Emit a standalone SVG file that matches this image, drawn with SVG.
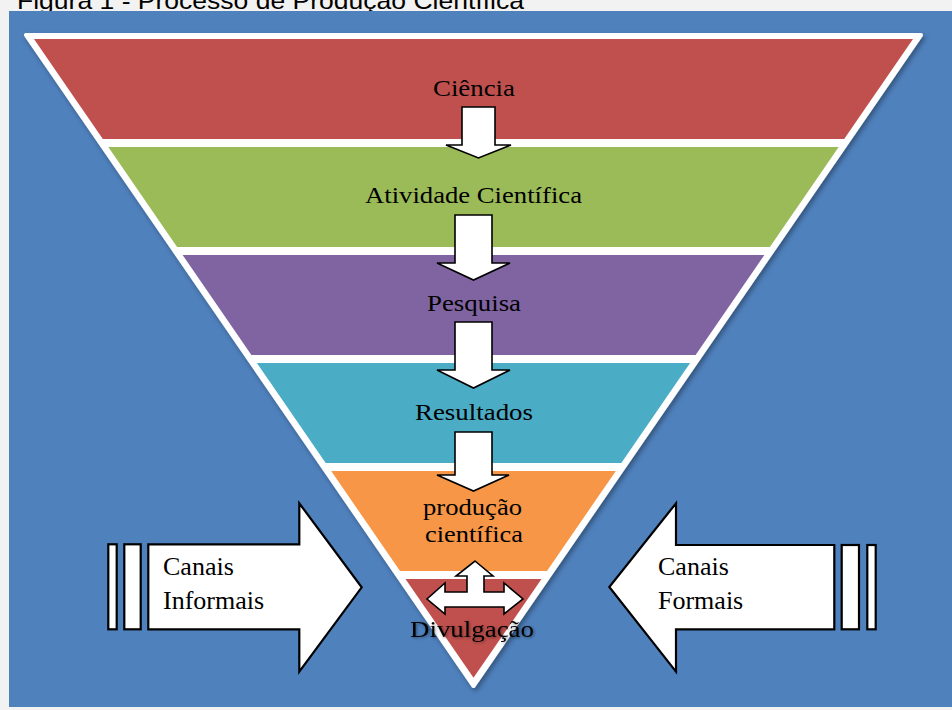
<svg xmlns="http://www.w3.org/2000/svg" width="952" height="710" viewBox="0 0 952 710">
<style>
.lbl{font-family:"Liberation Serif","Times New Roman",serif;font-size:23px;fill:#000;text-anchor:middle}
.side{font-family:"Liberation Serif","Times New Roman",serif;font-size:26px;fill:#000}
.arr{fill:#fff;stroke:#000;stroke-width:1.6;stroke-linejoin:miter}
.big{fill:#fff;stroke:#000;stroke-width:2.2;stroke-linejoin:miter}
</style>
<defs>
<filter id="sh" x="-10%" y="-10%" width="120%" height="120%">
<feDropShadow dx="2" dy="3" stdDeviation="2.5" flood-color="#000" flood-opacity="0.35"/>
</filter>
<filter id="tsh" x="-10%" y="-30%" width="120%" height="160%">
<feDropShadow dx="1" dy="1" stdDeviation="1.5" flood-color="#000" flood-opacity="0.45"/>
</filter>
</defs>
<rect x="0" y="0" width="952" height="710" fill="#f2f2f2"/>
<text x="17" y="9" font-family="Liberation Sans, Arial, sans-serif" font-size="24" textLength="507" lengthAdjust="spacingAndGlyphs" fill="#000">Figura 1 - Processo de Produção Científica</text>
<rect x="9" y="11" width="943" height="696" fill="#4f81bd"/>

<g id="pyramid">
<polygon points="26,35 921,35 473.5,686" fill="#fff" stroke="#fff" stroke-width="4" stroke-linejoin="round" filter="url(#sh)"/>
</g>
<g id="ciencia">
<polygon points="34,39 913,39 844.2,139 102.8,139" fill="#c0504d"/>
<text class="lbl" x="474" y="96" textLength="82" lengthAdjust="spacingAndGlyphs">Ciência</text>
</g>
<g id="atividade">
<polygon points="108.3,147 838.7,147 769.9,247 177.1,247" fill="#9bbb59"/>
<text class="lbl" x="473.5" y="203" textLength="217" lengthAdjust="spacingAndGlyphs">Atividade Científica</text>
</g>
<g id="pesquisa">
<polygon points="182.6,255 764.4,255 695.6,355 251.4,355" fill="#8064a2"/>
<text class="lbl" x="474" y="311" textLength="94" lengthAdjust="spacingAndGlyphs">Pesquisa</text>
</g>
<g id="resultados">
<polygon points="256.9,363 690.1,363 621.3,463 325.7,463" fill="#4bacc6"/>
<text class="lbl" x="474" y="420" textLength="118" lengthAdjust="spacingAndGlyphs">Resultados</text>
</g>
<g id="producao">
<polygon points="331.2,471 615.8,471 547,571 400,571" fill="#f79646"/>
<text class="lbl" x="472.5" y="515" textLength="99" lengthAdjust="spacingAndGlyphs">produção</text>
<text class="lbl" x="474" y="542" textLength="98" lengthAdjust="spacingAndGlyphs">científica</text>
</g>
<g id="divulgacao">
<polygon points="405.5,579 541.5,579 473.5,677.8" fill="#c0504d"/>
<text class="lbl" x="472" y="637" textLength="124" lengthAdjust="spacingAndGlyphs" filter="url(#tsh)">Divulgação</text>
</g>

<g id="connectors">
<path class="arr" d="M462,107 H495 V145 H511 L478.5,158 L446,145 H462 Z"/>
<path class="arr" d="M455,215 H492 V263 H510 L473.5,280 L437,263 H455 Z"/>
<path class="arr" d="M455,322 H492 V370 H510 L473.5,388 L437,370 H455 Z"/>
<path class="arr" d="M455,432 H492 V475 H509 L473.5,491 L437,475 H455 Z"/>
<path class="arr" d="M475,561 L493,576 H484 V592 H504 V583 L523,599 L504,614 V607 H445 V614 L427,599 L445,583 V592 H467 V576 H456 Z"/>
</g>

<g id="canais-informais">
<rect class="big" x="108.3" y="544.3" width="8.4" height="85"/>
<rect class="big" x="124.3" y="544.3" width="16.4" height="85"/>
<polygon class="big" points="148.3,544.3 299.3,544.3 299.3,503.3 361.7,587.3 299.3,671.7 299.3,629.3 148.3,629.3"/>
<text class="side" x="163" y="575">Canais</text>
<text class="side" x="163" y="609">Informais</text>
</g>
<g id="canais-formais">
<polygon class="big" points="834.3,545 676,545 676,503.3 609.3,587 676,671.7 676,629.3 834.3,629.3"/>
<rect class="big" x="841.7" y="545" width="17.3" height="84.3"/>
<rect class="big" x="867.3" y="545" width="8.4" height="84.3"/>
<text class="side" x="658" y="574.5">Canais</text>
<text class="side" x="658" y="609">Formais</text>
</g>
</svg>
